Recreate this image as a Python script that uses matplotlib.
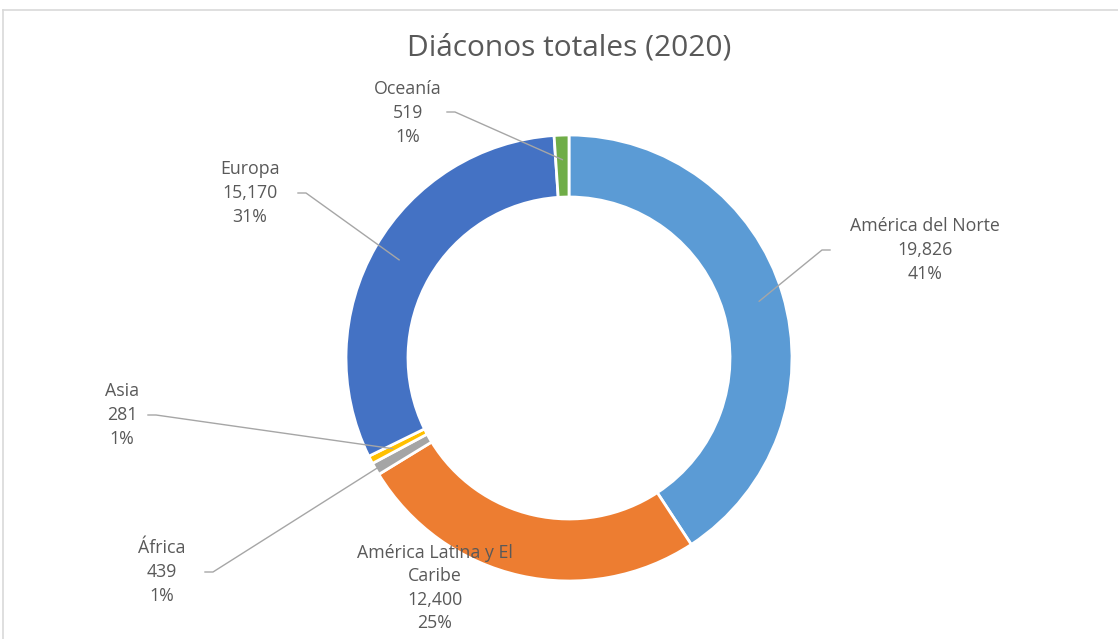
import numpy as np
import matplotlib.pyplot as plt

# data, clockwise from the top
regions = ['América del Norte', 'América Latina y El\nCaribe', 'África', 'Asia', 'Europa', 'Oceanía']
deacons = [19826, 12400, 439, 281, 15170, 519]
colors = ['#5B9BD5', '#ED7D31', '#A5A5A5', '#FFC000', '#4472C4', '#70AD47']

W, H = 1118, 639
CX, CY, R = 569, H - 358, 223

# label layout (pixel coords, y from top), leader start, leader end radius
label_pos = [(925, 250), (435, 588), (162, 572), (122, 415), (250, 193), (408, 113)]
leader_start = [(830, 250), None, (205, 572), (148, 415), (298, 193), (447, 112)]
leader_r = [0.89, None, 0.99, 0.89, 0.88, 0.89]

plt.rcParams['font.family'] = ['Open Sans', 'DejaVu Sans']
text_color = '#595959'

fig = plt.figure(figsize=(W / 100, H / 100), dpi=100)
ax = fig.add_axes([0, 0, 1, 1])

wedges, _ = ax.pie(deacons, radius=R, center=(CX, CY), startangle=90,
                   counterclock=False, colors=colors,
                   wedgeprops=dict(width=62, edgecolor='white', linewidth=2))

total = sum(deacons)
for w, name, val, pos, start, rr in zip(wedges, regions, deacons, label_pos,
                                         leader_start, leader_r):
    pct = round(100 * val / total)
    ax.text(pos[0], H - pos[1], f'{name}\n{val:,}\n{pct}%', ha='center', va='center',
            fontsize=12.8, color=text_color, linespacing=1.4)
    if start is None:
        continue
    mid = np.deg2rad((w.theta1 + w.theta2) / 2)
    ex = CX + R * rr * np.cos(mid)
    ey = CY + R * rr * np.sin(mid)
    sx, sy = start[0], H - start[1]
    kx = sx + (8 if ex > sx else -8)
    ax.plot([sx, kx, ex], [sy, sy, ey], color='#A6A6A6', lw=1)

ax.text(CX, H - 48, 'Diáconos totales (2020)', ha='center', va='center',
        fontsize=21.5, color=text_color)

# chart border
ax.plot([3, W], [H - 10, H - 10], color='#D9D9D9', lw=1.2)
ax.plot([3, 3], [H - 10, 0], color='#D9D9D9', lw=1.2)

ax.set_xlim(0, W)
ax.set_ylim(0, H)
ax.set_aspect('equal')
ax.axis('off')

fig.savefig('out.png', dpi=100, facecolor='white')
